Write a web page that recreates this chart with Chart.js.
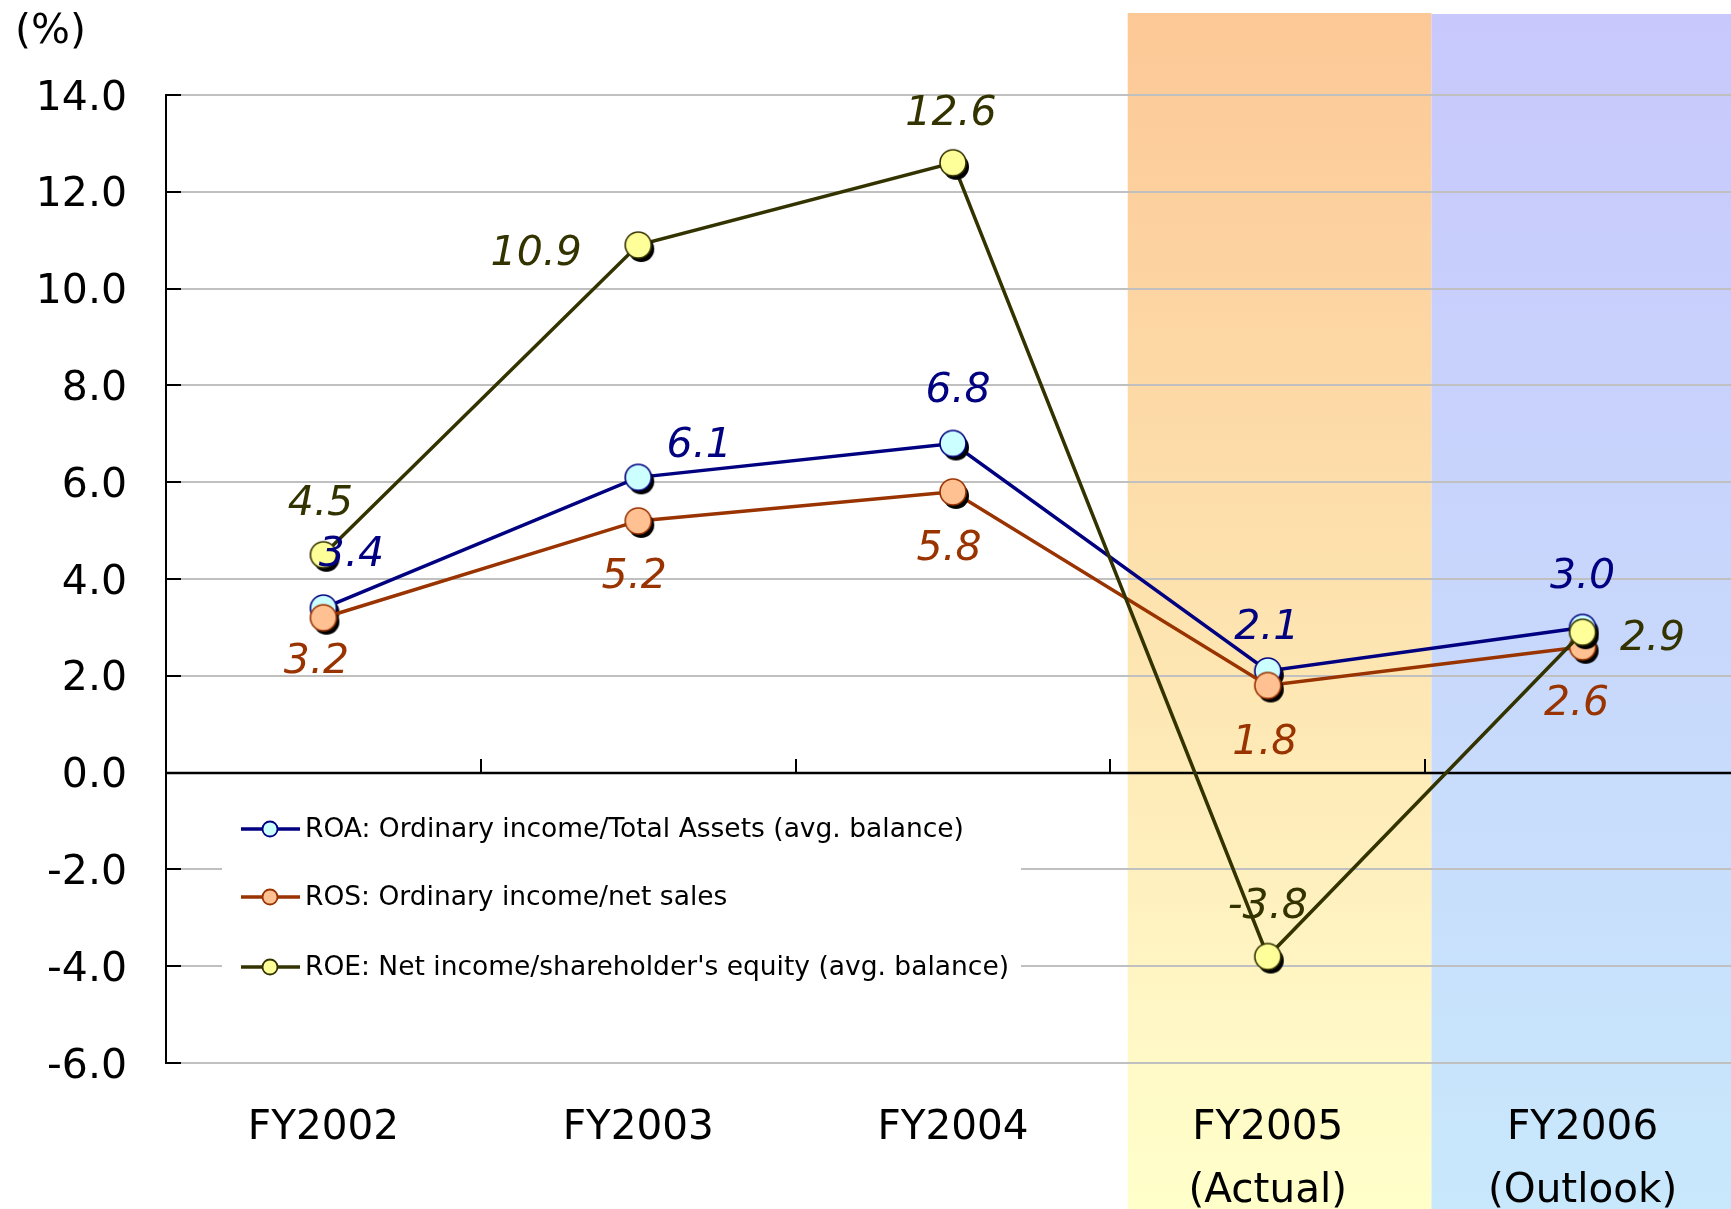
<!DOCTYPE html>
<html>
<head>
<meta charset="utf-8">
<script src="https://cdn.jsdelivr.net/npm/chart.js@4/dist/chart.umd.min.js"></script>
<style>
  html, body { margin: 0; padding: 0; background: #ffffff; overflow: hidden; }
  canvas { display: block; }
</style>
</head>
<body>
<canvas id="chart" width="1740" height="1209"></canvas>
<script>
// Fiscal years on the category axis (two-line labels for the last two)
const categories = [['FY2002'], ['FY2003'], ['FY2004'], ['FY2005', '(Actual)'], ['FY2006', '(Outlook)']];

// Profitability ratios, in percent
const roaValues = [3.4, 6.1, 6.8, 2.1, 3.0];
const rosValues = [3.2, 5.2, 5.8, 1.8, 2.6];
const roeValues = [4.5, 10.9, 12.6, -3.8, 2.9];

// Series names shown in the legend
const roaName = 'ROA: Ordinary income/Total Assets (avg. balance)';
const rosName = 'ROS: Ordinary income/net sales';
const roeName = "ROE: Net income/shareholder's equity (avg. balance)";

// Value axis range and step
const yMin = -6;
const yMax = 14;
const yStep = 2;

const FONT = "'DejaVu Sans', Verdana, sans-serif";

// Marker image: a black drop shadow under a filled, outlined circle
function makeMarker(fill, stroke, r) {
  const pad = 7;
  const size = Math.ceil(2 * (r + pad));
  const cv = document.createElement('canvas');
  cv.width = size; cv.height = size;
  const c = cv.getContext('2d');
  const cx = size / 2, cy = size / 2;
  c.fillStyle = '#000000';
  c.beginPath(); c.arc(cx + 3, cy + 4, r, 0, Math.PI * 2); c.fill();
  c.fillStyle = fill;
  c.strokeStyle = stroke;
  c.lineWidth = 1.6;
  c.beginPath(); c.arc(cx, cy, r, 0, Math.PI * 2); c.fill(); c.stroke();
  return cv;
}

const series = [
  { name: roaName, data: roaValues, line: '#000080', fill: '#CCFFFF', label: '#000080', order: 2,
    offsets: [[28, -53], [61, -31], [5, -52], [-1, -43], [0, -50]] },
  { name: rosName, data: rosValues, line: '#993300', fill: '#FFC192', label: '#993300', order: 1,
    offsets: [[-7, 45], [-4, 56], [-4, 57], [-3, 58], [-6, 58]] },
  { name: roeName, data: roeValues, line: '#333300', fill: '#FFFF99', label: '#333300', order: 0,
    offsets: [[-3, -50], [-102, 9], [-2, -48], [0, -49], [70, 7]] }
];

// Shaded backgrounds behind the actual and outlook years, extending to the bottom
const bandPlugin = {
  id: 'bands',
  beforeDraw(chart) {
    const { ctx, scales: { x } } = chart;
    const binW = (x.right - x.left) / categories.length;
    const c3 = x.getPixelForValue(3);
    const aL = c3 - 0.445 * binW;
    const aR = c3 + 0.52 * binW;
    const H = chart.height;
    ctx.save();
    let g = ctx.createLinearGradient(0, 13, 0, H);
    g.addColorStop(0, '#FCC896');
    g.addColorStop(0.5, '#FDE3AF');
    g.addColorStop(0.85, '#FFF8C6');
    g.addColorStop(1, '#FFFFCA');
    ctx.fillStyle = g;
    ctx.fillRect(aL, 13, aR - aL, H - 13);
    g = ctx.createLinearGradient(0, 14, 0, H);
    g.addColorStop(0, '#C8C8FC');
    g.addColorStop(0.5, '#C8D7FC');
    g.addColorStop(1, '#C8E8FC');
    ctx.fillStyle = g;
    ctx.fillRect(aR, 14, chart.width - aR, H - 14);
    ctx.restore();
  }
};

// Zero line with tick marks, inner y ticks, legend panel
const axisPlugin = {
  id: 'axisDecor',
  beforeDatasetsDraw(chart) {
    const { ctx, chartArea: a, scales: { x, y } } = chart;
    ctx.save();
    // legend panel hides the gridlines behind it
    ctx.fillStyle = '#ffffff';
    ctx.fillRect(222, 786, 799, 218);
    // inner ticks on the value axis
    ctx.strokeStyle = '#000000';
    ctx.lineWidth = 2;
    for (let v = yMin; v <= yMax; v += yStep) {
      const py = Math.round(y.getPixelForValue(v));
      ctx.beginPath(); ctx.moveTo(a.left, py); ctx.lineTo(a.left + 15, py); ctx.stroke();
    }
    // zero line
    const y0 = Math.round(y.getPixelForValue(0));
    ctx.lineWidth = 2.5;
    ctx.beginPath(); ctx.moveTo(a.left, y0); ctx.lineTo(chart.width, y0); ctx.stroke();
    // category boundary ticks
    ctx.lineWidth = 2;
    const binW = (x.right - x.left) / categories.length;
    for (let i = 1; i < categories.length; i++) {
      const px = Math.round(x.left + i * binW);
      ctx.beginPath(); ctx.moveTo(px, y0); ctx.lineTo(px, y0 - 14); ctx.stroke();
    }
    ctx.restore();
  },
  afterDatasetsDraw(chart) {
    const { ctx } = chart;
    ctx.save();
    // value labels
    ctx.font = "italic 41px " + FONT;
    ctx.textAlign = 'center';
    ctx.textBaseline = 'middle';
    chart.data.datasets.forEach((ds, di) => {
      const meta = chart.getDatasetMeta(di);
      const s = series[di];
      ctx.fillStyle = s.label;
      meta.data.forEach((pt, i) => {
        const [dx, dy] = s.offsets[i];
        ctx.fillText(ds.data[i].toFixed(1), pt.x + dx, pt.y + dy);
      });
    });
    // legend entries
    const rows = [829, 897, 967];
    ctx.font = "26.5px " + FONT;
    ctx.textAlign = 'left';
    series.forEach((s, i) => {
      const ly = rows[i];
      ctx.strokeStyle = s.line;
      ctx.lineWidth = 3.5;
      ctx.beginPath(); ctx.moveTo(241, ly); ctx.lineTo(300, ly); ctx.stroke();
      ctx.fillStyle = s.fill;
      ctx.lineWidth = 1.8;
      ctx.beginPath(); ctx.arc(270, ly, 7.5, 0, Math.PI * 2); ctx.fill(); ctx.stroke();
      ctx.fillStyle = '#000000';
      ctx.fillText(s.name, 305, ly + 1);
    });
    // unit label
    ctx.font = "41px " + FONT;
    ctx.fillText('(%)', 15, 32);
    ctx.restore();
  }
};

new Chart(document.getElementById('chart'), {
  type: 'line',
  data: {
    labels: categories,
    datasets: series.map(s => ({
      label: s.name,
      data: s.data,
      borderColor: s.line,
      borderWidth: 3.5,
      backgroundColor: s.fill,
      pointStyle: makeMarker(s.fill, s.line, 13),
      pointRadius: 14,
      tension: 0,
      fill: false,
      clip: false,
      order: s.order
    }))
  },
  options: {
    responsive: false,
    animation: false,
    devicePixelRatio: 1,
    layout: { autoPadding: false, padding: { top: 95, right: 0, bottom: 0, left: 0 } },
    plugins: { legend: { display: false }, tooltip: { enabled: false } },
    scales: {
      x: {
        type: 'category',
        offset: true,
        grid: { display: false, drawTicks: false },
        border: { display: false },
        ticks: {
          color: '#000000',
          padding: 34,
          maxRotation: 0,
          autoSkip: false,
          font: { family: FONT, size: 40.5, lineHeight: 1.55 }
        },
        afterFit(scale) {
          scale.height = 146;
          scale.paddingLeft = 0;
          scale.paddingRight = 0;
        }
      },
      y: {
        min: yMin,
        max: yMax,
        grid: { color: '#C0C0C0', lineWidth: 2, drawTicks: false },
        border: { display: true, color: '#000000', width: 2 },
        ticks: {
          stepSize: yStep,
          color: '#000000',
          padding: 39,
          labelOffset: 4,
          font: { family: FONT, size: 41 },
          callback: v => Number(v).toFixed(1)
        },
        afterFit(scale) { scale.width = 166; }
      }
    }
  },
  plugins: [bandPlugin, axisPlugin]
});
</script>
</body>
</html>
